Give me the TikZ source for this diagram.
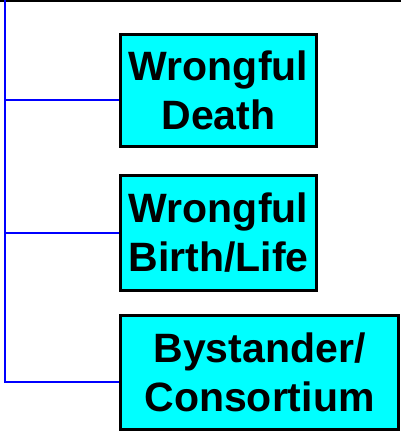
\documentclass[tikz,border=0pt]{standalone}
\usepackage{fontspec}
\setmainfont{Liberation Sans}
\definecolor{aqua}{RGB}{0,255,255}
\definecolor{pureblue}{RGB}{0,0,255}
\begin{document}
\begin{tikzpicture}[x=1pt,y=-1pt,
  box/.style={draw=black, line width=3pt, fill=aqua, align=center,
    font=\fontsize{41}{49}\selectfont\bfseries, inner sep=0pt},
  link/.style={draw=pureblue, line width=2.5pt},
  rule/.style={draw=black, line width=1.5pt}]
\useasboundingbox (0,0) rectangle (401,432);
\coordinate (l0) at (0,0.75);
\coordinate (r0) at (401,0.75);
\draw[rule] (l0) -- (r0);
\node[box, minimum width=196pt, minimum height=112pt] (b1) at (218.5,90.5) {Wrongful\\Death};
\node[box, minimum width=196pt, minimum height=115pt] (b2) at (218.5,233) {Wrongful\\Birth/Life};
\node[box, minimum width=278pt, minimum height=114pt] (b3) at (259.5,372.5) {Bystander/\\Consortium};
\coordinate (top) at (5,0);
\coordinate (k1) at (5,100);
\coordinate (k2) at (5,233);
\coordinate (k3) at (5,382);
\draw[link] (top) -- (k3) -- (k3 -| b3.west);
\draw[link] (k1) -- (k1 -| b1.west);
\draw[link] (k2) -- (k2 -| b2.west);
\end{tikzpicture}
\end{document}
